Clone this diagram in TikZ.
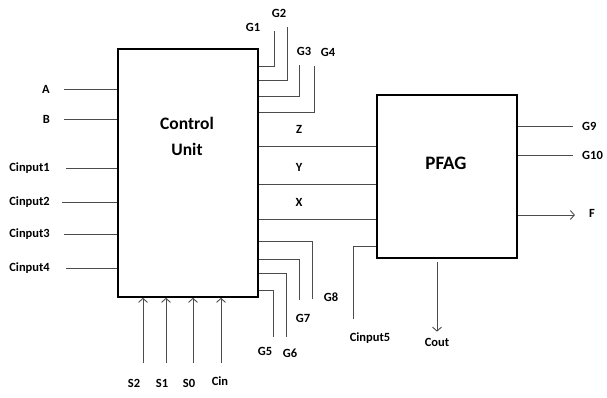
\documentclass[tikz,border=0pt]{standalone}
\usepackage{fontspec}
\setmainfont{Carlito}
\usetikzlibrary{positioning,arrows.meta,calc}

\begin{document}
\begin{tikzpicture}[x=1pt,y=-1pt,>={Straight Barb[length=4pt,width=9pt]},
  every node/.style={font=\fontsize{12.5}{14}\selectfont\bfseries,inner sep=0pt},
  blk/.style={draw,line width=1.6pt,minimum width=140pt},
  wire/.style={black!70,line width=0.9pt}]
\useasboundingbox (0,0) rectangle (607,397);
% the two blocks
\node[blk,minimum height=248pt] (cu) at (188,173) {};
\node[blk,minimum height=163pt] (pfag) at (447,176.5) {};
\node[font=\fontsize{17.5}{26}\selectfont\bfseries,align=center] (cutxt) at (187,136) {Control\\Unit};
\node[font=\fontsize{19}{22}\selectfont\bfseries] (pftxt) at (446,163) {PFAG};

% inputs on the left
\foreach \nm/\yy/\gap [count=\i] in {A/89/14,B/119/14,Cinput1/168/16,Cinput2/202/12,Cinput3/234/14,Cinput4/268/16}{
  \node[anchor=east] (in\i) at (50,\yy) {\nm};
  \draw[wire] ([xshift=\gap pt]in\i.east) -- (in\i -| cu.west);
}

% select lines and carry in
\foreach \nm/\xx/\lx/\ly [count=\i] in {S2/143/134/383,S1/166/162/383,S0/193/189/383,Cin/221/220/381}{
  \node (sel\i) at (\lx,\ly) {\nm};
  \coordinate (sb\i) at (\xx,363);
  \draw[wire,->] (sb\i) -- (sb\i |- cu.south);
}

% G outputs, top
\foreach \nm/\yy/\xx/\yt/\lx/\ly [count=\i] in {G1/66/274/31/253/27,G2/80/287/27/279/13,G3/96/299/65/304/51,G4/112/314/66/328/52}{
  \node (gt\i) at (\lx,\ly) {\nm};
  \coordinate (gtc\i) at (\xx,\yt);
  \draw[wire] (gtc\i) |- (cu.east |- 0,\yy);
}

% G outputs, bottom
\foreach \nm/\yy/\xx/\yb/\lx/\ly [count=\i] in {G5/290/273/337/265/351,G6/273/286/337/290/353,G7/259/299/300/303/318,G8/241/312/299/331/297}{
  \node (gb\i) at (\lx,\ly) {\nm};
  \coordinate (gbc\i) at (\xx,\yb);
  \draw[wire] (gbc\i) |- (cu.east |- 0,\yy);
}

% Z, Y, X between the blocks
\foreach \nm/\yy in {Z/146,Y/184,X/219}{
  \node (lb\nm) at (299,\yy-17) {\nm};
  \draw[wire] (cu.east |- 0,\yy) -- (pfag.west |- 0,\yy);
}

% PFAG outputs
\node[anchor=west] (g9) at (582,126) {G9};
\node[anchor=west] (g10) at (582,155) {G10};
\node (f) at (592,213) {F};
\draw[wire] (pfag.east |- g9) -- ([xshift=-9pt]g9.west);
\draw[wire] (pfag.east |- g10) -- ([xshift=-9pt]g10.west);
\draw[wire,->] (pfag.east |- 0,215) -- ([xshift=-14pt]f.west |- 0,215);

\node (cin5) at (370,338) {Cinput5};
\coordinate (c5) at (353,319);
\draw[wire] (c5) |- (pfag.west |- 0,246);

\node (cout) at (437,342) {Cout};
\coordinate (co) at (437,262);
\draw[wire,->] (co) -- ([yshift=6pt]cout.north);
\end{tikzpicture}
\end{document}
